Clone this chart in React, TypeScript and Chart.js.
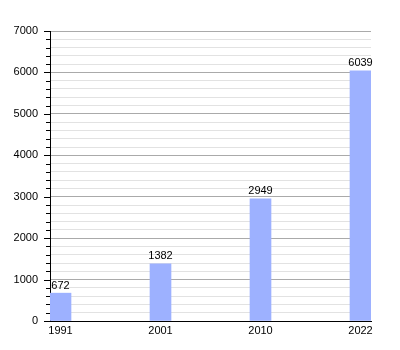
import React, { useEffect, useRef } from "react";
import { Chart, registerables } from "chart.js";

Chart.register(...registerables);

const years = ["1991", "2001", "2010", "2022"];
const population = [672, 1382, 2949, 6039];
const yTicksMajor = [0, 1000, 2000, 3000, 4000, 5000, 6000, 7000];

const FONT = "'Liberation Sans', Arial, sans-serif";

const valueLabels = {
  id: "valueLabels",
  afterDatasetsDraw(chart: any) {
    const ctx = chart.ctx;
    const meta = chart.getDatasetMeta(0);
    ctx.save();
    ctx.font = `11px ${FONT}`;
    ctx.fillStyle = "#000";
    ctx.textAlign = "center";
    ctx.textBaseline = "bottom";
    meta.data.forEach((el: any, i: number) => {
      ctx.fillText(String(population[i]), el.x, el.y - 2);
    });
    ctx.restore();
  },
};

const yTickMarks = {
  id: "yTickMarks",
  afterDraw(chart: any) {
    const ctx = chart.ctx;
    const y = chart.scales.y;
    const left = chart.chartArea.left;
    ctx.save();
    ctx.strokeStyle = "#000";
    ctx.lineWidth = 1;
    for (let v = 0; v <= 7000; v += 200) {
      const py = Math.round(y.getPixelForValue(v)) + 0.5;
      const len = v % 1000 === 0 ? 6 : 4;
      ctx.beginPath();
      ctx.moveTo(left - len, py);
      ctx.lineTo(left, py);
      ctx.stroke();
    }
    ctx.restore();
  },
};

export default function App() {
  const ref = useRef<HTMLCanvasElement>(null);
  useEffect(() => {
    document.body.style.margin = "0";
    const chart = new Chart(ref.current!, {
      type: "bar",
      data: {
        datasets: [
          {
            data: population.map((v, i) => ({ x: i, y: v })),
            backgroundColor: "#9db1ff",
            barThickness: 21,
          },
        ],
      },
      options: {
        responsive: false,
        animation: false,
        layout: { padding: { top: 31, right: 29, left: 0, bottom: 0 } },
        plugins: { legend: { display: false }, tooltip: { enabled: false } },
        scales: {
          x: {
            type: "linear",
            offset: false,
            min: -0.105,
            max: 3.105,
            afterBuildTicks: (scale: any) => {
              scale.ticks = years.map((_, i) => ({ value: i }));
            },
            afterFit: (scale: any) => {
              scale.height = 29;
            },
            grid: { display: false, drawTicks: false, offset: false },
            border: { color: "#000", width: 1 },
            ticks: {
              padding: 3,
              font: { family: FONT, size: 11 },
              color: "#000",
              maxRotation: 0,
              autoSkip: false,
              callback: (v: any) => years[v] ?? "",
            },
          },
          y: {
            min: 0,
            max: 7000,
            afterFit: (scale: any) => {
              scale.width = 50;
            },
            grid: {
              color: (c: any) =>
                c.tick && yTicksMajor.includes(c.tick.value) ? "#aaaaaa" : "#e2e2e2",
              drawTicks: true,
              tickLength: 6,
              tickColor: "rgba(0,0,0,0)",
            },
            border: { color: "#000", width: 1 },
            ticks: {
              stepSize: 200,
              autoSkip: false,
              padding: 6,
              font: { family: FONT, size: 11 },
              color: "#000",
              callback: (v: any) => (yTicksMajor.includes(v) ? String(v) : ""),
            },
          },
        },
      },
      plugins: [valueLabels, yTickMarks],
    });
    return () => chart.destroy();
  }, []);
  return <canvas ref={ref} width={400} height={350} style={{ display: "block" }} />;
}
